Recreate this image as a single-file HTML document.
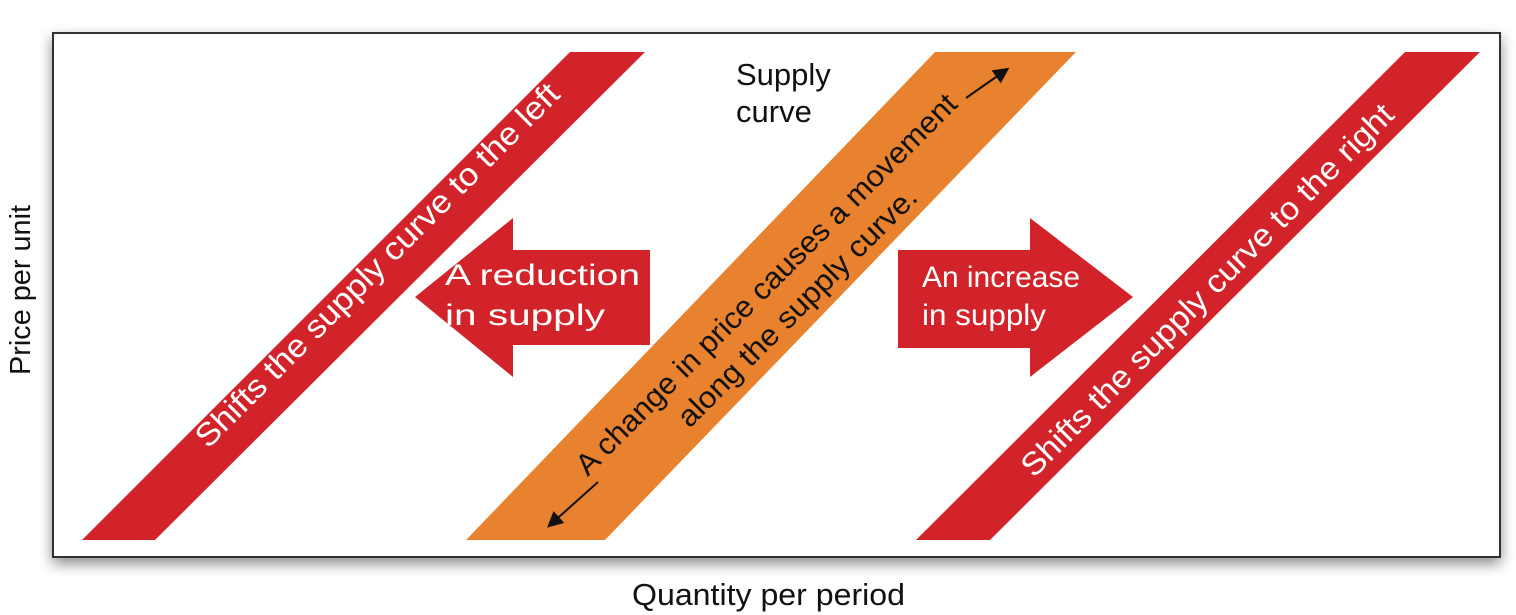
<!DOCTYPE html>
<html><head><meta charset="utf-8"><style>
html,body{margin:0;padding:0;background:#fff;width:1516px;height:615px;overflow:hidden}
svg{display:block;font-family:"Liberation Sans",sans-serif}
</style></head><body>
<svg width="1516" height="615" viewBox="0 0 1516 615">
<defs>
<filter id="sh" x="-5%" y="-10%" width="110%" height="125%"><feGaussianBlur in="SourceAlpha" stdDeviation="7"/><feOffset dx="0" dy="6"/><feComponentTransfer><feFuncA type="linear" slope="0.45"/></feComponentTransfer><feMerge><feMergeNode/><feMergeNode in="SourceGraphic"/></feMerge></filter>
<marker id="ah" markerWidth="8" markerHeight="8" refX="6" refY="4" orient="auto"><path d="M0,0 L8,4 L0,8 Z" fill="#111"/></marker>
</defs>
<rect x="53" y="33" width="1447" height="524" fill="#fff" stroke="#333" stroke-width="2" filter="url(#sh)"/>
<polygon points="82,540 155,540 645,52 570,52" fill="#d2232a"/>
<polygon points="466,540 605,540 1076,52 935,52" fill="#e8822e"/>
<polygon points="916,540 990,540 1480,52 1405,52" fill="#d2232a"/>
<polygon points="415,297 513,218 513,250 650,250 650,345 513,345 513,377" fill="#d2232a"/>
<polygon points="1133,297 1030,218 1030,250 898,250 898,348 1030,348 1030,377" fill="#d2232a"/>
<g fill="#fff" font-size="30">
<text x="445" y="285" textLength="195" lengthAdjust="spacingAndGlyphs">A reduction</text>
<text x="445" y="325" textLength="160" lengthAdjust="spacingAndGlyphs">in supply</text>
<text x="922" y="287" textLength="158" lengthAdjust="spacingAndGlyphs">An increase</text>
<text x="922" y="325" textLength="124" lengthAdjust="spacingAndGlyphs">in supply</text>
<text transform="translate(377,265) rotate(-45)" text-anchor="middle" dominant-baseline="central" font-size="32" textLength="500" lengthAdjust="spacingAndGlyphs">Shifts the supply curve to the left</text>
<text transform="translate(1207,290) rotate(-45)" text-anchor="middle" dominant-baseline="central" font-size="32" textLength="512" lengthAdjust="spacingAndGlyphs">Shifts the supply curve to the right</text>
</g>
<g fill="#111" font-size="30">
<text transform="translate(779,297) rotate(-45)" text-anchor="middle"><tspan x="0" y="-8" textLength="525" lengthAdjust="spacingAndGlyphs">A change in price causes a movement</tspan><tspan x="6" y="30" textLength="325" lengthAdjust="spacingAndGlyphs">along the supply curve.</tspan></text>
<text x="736" y="85" font-size="31">Supply</text>
<text x="736" y="122" font-size="31">curve</text>
<text x="632" y="605" font-size="31" textLength="273" lengthAdjust="spacingAndGlyphs">Quantity per period</text>
<text transform="translate(30,290) rotate(-90)" text-anchor="middle" font-size="29" textLength="170" lengthAdjust="spacingAndGlyphs">Price per unit</text>
</g>
<line x1="598" y1="482" x2="550" y2="525" stroke="#111" stroke-width="2" marker-end="url(#ah)"/>
<line x1="966" y1="98" x2="1006" y2="70" stroke="#111" stroke-width="2" marker-end="url(#ah)"/>
</svg>
</body></html>
